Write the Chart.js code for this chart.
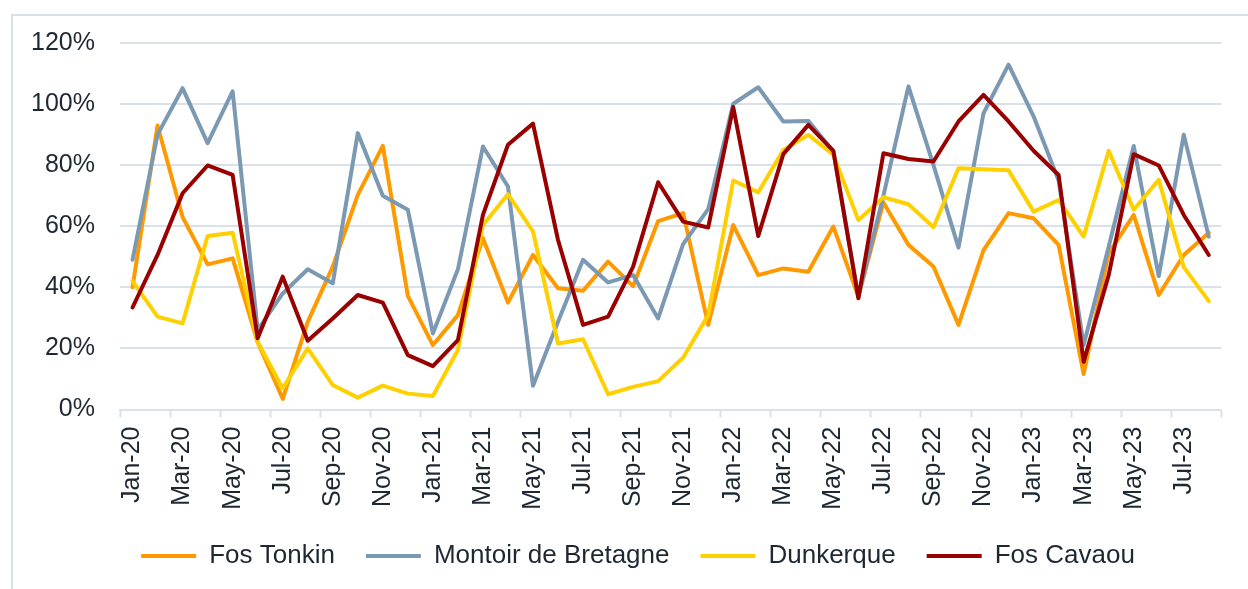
<!DOCTYPE html>
<html>
<head>
<meta charset="utf-8">
<script src="https://cdn.jsdelivr.net/npm/chart.js@4/dist/chart.umd.min.js"></script>
<style>
  body { margin: 0; background: #fff; }
  #wrap { position: relative; width: 1248px; height: 589px; overflow: hidden; }
  #frame { position: absolute; left: 11px; top: 14px; width: 1300px; height: 700px;
           border-left: 2px solid #d6e0ea; border-top: 2px solid #d6e0ea; }
  canvas { position: absolute; left: 0; top: 0; }
</style>
</head>
<body>
<div id="wrap">
  <div id="frame"></div>
  <canvas id="utilisation"></canvas>
</div>
<script>
var months = ['Jan-20','Feb-20','Mar-20','Apr-20','May-20','Jun-20','Jul-20','Aug-20','Sep-20','Oct-20','Nov-20','Dec-20',
              'Jan-21','Feb-21','Mar-21','Apr-21','May-21','Jun-21','Jul-21','Aug-21','Sep-21','Oct-21','Nov-21','Dec-21',
              'Jan-22','Feb-22','Mar-22','Apr-22','May-22','Jun-22','Jul-22','Aug-22','Sep-22','Oct-22','Nov-22','Dec-22',
              'Jan-23','Feb-23','Mar-23','Apr-23','May-23','Jun-23','Jul-23','Aug-23'];

var fosTonkin = [40, 93, 63, 47.5, 49.5, 22, 3.5, 28.7, 46.8, 70.3, 86.3, 37.2,
                 21.1, 30.9, 56.1, 35, 50.6, 39.7, 38.9, 48.4, 40.4, 61.7, 64.3, 27.7,
                 60.4, 44, 46.2, 45.1, 59.9, 37, 67.8, 53.9, 46.8, 27.7, 52.2, 64.3,
                 62.6, 53.9, 11.6, 51.1, 63.7, 37.5, 50.6, 57.9];

var montoir = [49, 90, 105.2, 87.2, 104.2, 26, 38, 45.9, 41.3, 90.5, 70, 65.4,
               24.9, 45.9, 86.1, 73, 7.8, 28.7, 49, 41.6, 44, 29.8, 54.2, 65.6,
               100.1, 105.5, 94.3, 94.5, 84.5, 37, 70, 105.8, 80, 53, 97, 112.9,
               96, 75, 21.1, 53.3, 86.3, 43.7, 90, 56.6];

var dunkerque = [42, 30.4, 28.2, 56.8, 57.9, 22.2, 6.9, 20, 8, 3.9, 7.8, 5.2,
                 4.4, 19.5, 60.4, 70.5, 58.3, 21.6, 23, 5, 7.4, 9.3, 17, 30.9,
                 75, 71.1, 85, 89.9, 83.4, 62, 69.5, 67.2, 59.7, 79, 78.7, 78.3,
                 64.8, 68.6, 56.6, 84.7, 65.4, 75.2, 46.6, 35.5];

var fosCavaou = [33.4, 50.6, 70.8, 79.9, 76.8, 23.3, 43.5, 22.5, 29.8, 37.5, 35, 17.8,
                 14.2, 22.7, 63.7, 86.7, 93.6, 55.5, 27.7, 30.4, 46.8, 74.4, 61.5, 59.6,
                 99, 56.8, 83.6, 93.2, 84.7, 36.4, 83.9, 82, 81.2, 94.3, 103, 94.3,
                 84.7, 76.8, 15.6, 44, 83.6, 79.9, 63.7, 50.6];

var yTicks = [0, 20, 40, 60, 80, 100, 120];

document.addEventListener("DOMContentLoaded", function() {
    var gridColor = '#d9e1ea';
    var textColor = '#1e2833';
    Chart.defaults.font.family = "'Liberation Sans', Arial, sans-serif";

    // shorter legend box so the items sit lower, and nudge the row a bit right
    var legendFit = {
        id: 'legendFit',
        beforeInit: function(chart) {
            var fit = chart.legend.fit;
            chart.legend.fit = function() {
                fit.call(this);
                this.height = 77;
                if (this.lineWidths && this.lineWidths.length) this.lineWidths[0] -= 15;
            };
        }
    };

    function line(label, data, color) {
        return {
            label: label,
            data: data,
            borderColor: color,
            backgroundColor: color,
            borderWidth: 4,
            pointRadius: 0,
            tension: 0,
            borderJoinStyle: 'round',
            borderCapStyle: 'round'
        };
    }

    var ctx = document.getElementById("utilisation").getContext("2d");
    var chart = new Chart(ctx, {
        type: 'line',
        data: {
            labels: months,
            // reversed so Fos Cavaou is drawn on top
            datasets: [
                line('Fos Cavaou', fosCavaou, '#990000'),
                line('Dunkerque', dunkerque, '#ffd000'),
                line('Montoir de Bretagne', montoir, '#7b99b3'),
                line('Fos Tonkin', fosTonkin, '#ff9900')
            ]
        },
        plugins: [legendFit],
        options: {
            responsive: true,
            maintainAspectRatio: false,
            animation: false,
            layout: { padding: { left: 31, right: 18, top: 43, bottom: 0 } },
            plugins: {
                tooltip: { enabled: false },
                legend: {
                    position: 'bottom',
                    reverse: true,
                    labels: {
                        usePointStyle: true,
                        pointStyle: 'line',
                        pointStyleWidth: 55,
                        padding: 31,
                        color: textColor,
                        font: { size: 26 }
                    }
                }
            },
            scales: {
                x: {
                    offset: true,
                    grid: {
                        offset: true,
                        drawOnChartArea: false,
                        tickLength: 8,
                        tickWidth: 2,
                        tickColor: function(c) {
                            return (c.index === undefined || c.index % 2 === 0) ? gridColor : 'rgba(0,0,0,0)';
                        }
                    },
                    border: { color: gridColor, width: 2 },
                    ticks: {
                        autoSkip: false,
                        minRotation: 90,
                        maxRotation: 90,
                        padding: 9,
                        color: textColor,
                        font: { size: 25 },
                        callback: function(v, i) {
                            return i % 2 === 0 ? this.getLabelForValue(v) : '';
                        }
                    },
                    afterFit: function(s) { s.height = 102.5; }
                },
                y: {
                    min: yTicks[0],
                    max: yTicks[yTicks.length - 1],
                    grid: { color: gridColor, lineWidth: 2, drawTicks: false },
                    border: { display: false },
                    ticks: {
                        stepSize: yTicks[1] - yTicks[0],
                        padding: 25,
                        color: textColor,
                        font: { size: 25 },
                        callback: function(v) { return v + '%'; }
                    },
                    afterFit: function(s) { s.width = 89; }
                }
            }
        }
    });
});
</script>
</body>
</html>
